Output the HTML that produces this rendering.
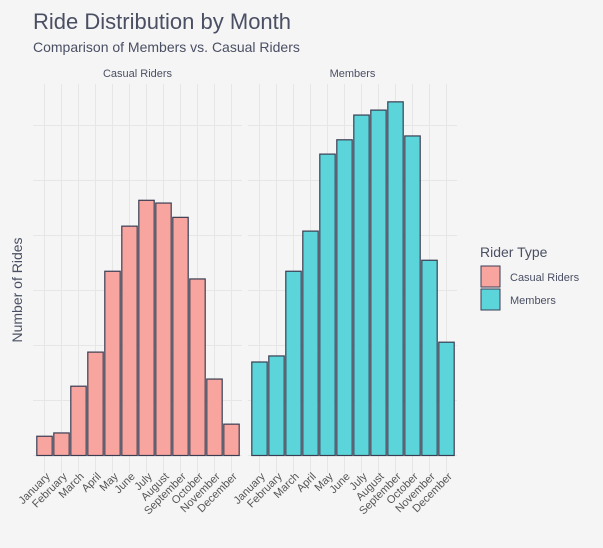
<!DOCTYPE html>
<html><head><meta charset="utf-8"><style>
body{margin:0;background:#f5f5f5;}
svg{display:block;font-family:"Liberation Sans",sans-serif;}
</style></head><body>
<svg id="c" width="603" height="548" xmlns="http://www.w3.org/2000/svg">
<rect width="603" height="548" fill="#f5f5f5"/>
<text x="33" y="29" font-size="22" fill="#4a4f63">Ride Distribution by Month</text>
<text x="33" y="52" font-size="14" fill="#4a4f63">Comparison of Members vs. Casual Riders</text>
<text x="22" y="290" font-size="14" fill="#4a4f63" text-anchor="middle" transform="rotate(-90 22 290)">Number of Rides</text>
<g id="plot"></g>
<text x="480" y="257" font-size="14" fill="#4a4f63">Rider Type</text>
<rect x="481" y="266" width="19" height="21" fill="#f8a59f" stroke="#3a3d52"/>
<text x="510" y="281" font-size="11" fill="#4a4f63">Casual Riders</text>
<rect x="481" y="289" width="19" height="21" fill="#5bd5d9" stroke="#3a3d52"/>
<text x="510" y="304" font-size="11" fill="#4a4f63">Members</text>
</svg>
<script>
const months=["January","February","March","April","May","June","July","August","September","October","November","December"];
const casual=[35,41,126,188,335,417,464,459,433,321,139,57];
const members=[170,181,335,408,548,574,619,628,643,581,355,206];
const gridTicks=[0,100,200,300,400,500,600,700];
const NS="http://www.w3.org/2000/svg";
const plotG=document.getElementById('plot');
const baseY=455.5,unit=0.55,plotTop=84;
function ys(v){return baseY-v*unit;}
function mk(t,a){const e=document.createElementNS(NS,t);for(const k in a)e.setAttribute(k,a[k]);plotG.appendChild(e);return e;}
const panels=[{x0:33,x1:242,name:"Casual Riders",data:casual,fill:"#f8a59f",key:"casual"},{x0:248,x1:457,name:"Members",data:members,fill:"#5bd5d9",key:"members"}];
panels.forEach(p=>{
  const step=17, start=p.x0+11.5;
  function xs(i){return start+i*step;}
  gridTicks.forEach(t=>{const y=ys(t);if(y<plotTop)return;
    const l=mk('line',{x1:p.x0,x2:p.x1,y1:y,y2:y,stroke:'#e6e6e6','stroke-width':1});
    
    });
  months.forEach((m,i)=>{const l=mk('line',{x1:xs(i),x2:xs(i),y1:plotTop,y2:473,stroke:'#e6e6e6','stroke-width':1});
    
    });
  const s=mk('text',{x:(p.x0+p.x1)/2,y:77,'font-size':11,fill:'#4a4f63','text-anchor':'middle'});s.textContent=p.name;
  
  
  p.data.forEach((v,i)=>{const r=mk('rect',{x:xs(i)-7.7,y:ys(v),width:15.4,height:v*unit,fill:p.fill,stroke:'#3a3d52','stroke-width':1.2});
    
    });
  months.forEach((m,i)=>{const x=xs(i)+1,y=472;
    const t=mk('text',{x:x,y:y,'font-size':11,fill:'#555','text-anchor':'end',transform:`rotate(-45 ${x} ${y})`,'dominant-baseline':'hanging'});t.textContent=m;
    
    });
});
</script>
</body></html>
